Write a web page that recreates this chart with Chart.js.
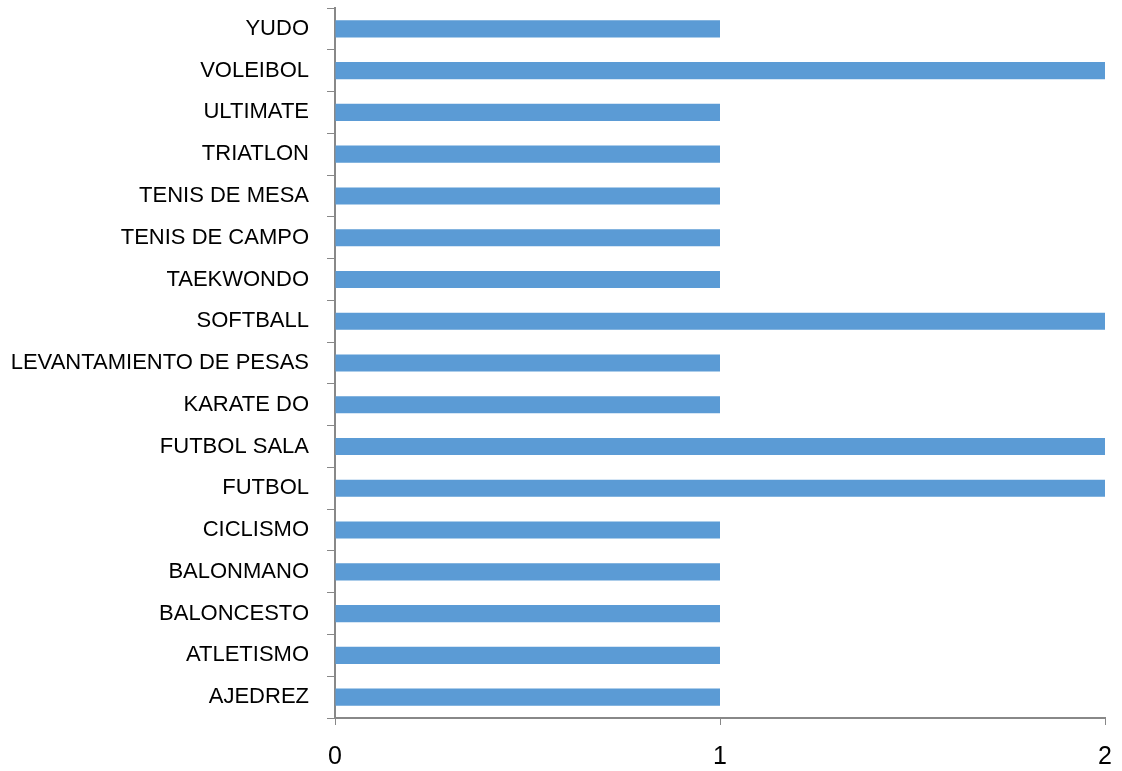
<!DOCTYPE html>
<html lang="es">
<head>
  <meta charset="UTF-8">
  <title>Deportes</title>
  <script src="https://cdn.jsdelivr.net/npm/chart.js"></script>
  <style>
    html, body { margin: 0; padding: 0; background: #fff; }
    canvas { display: block; }
  </style>
</head>
<body>
  <canvas id="myChart" width="1122" height="771"></canvas>

  <script>
    // categories (bottom to top) and counts
    const deportes = ['AJEDREZ', 'ATLETISMO', 'BALONCESTO', 'BALONMANO', 'CICLISMO', 'FUTBOL',
      'FUTBOL SALA', 'KARATE DO', 'LEVANTAMIENTO DE PESAS', 'SOFTBALL', 'TAEKWONDO',
      'TENIS DE CAMPO', 'TENIS DE MESA', 'TRIATLON', 'ULTIMATE', 'VOLEIBOL', 'YUDO'];
    const cantidad = [1, 1, 1, 1, 1, 2, 2, 1, 1, 2, 1, 1, 1, 1, 1, 2, 1];
    const xTicks = [0, 1, 2];

    const axisGray = '#888888';
    let ctx = document.getElementById('myChart').getContext('2d');

    new Chart(ctx, {
      type: 'bar',
      data: {
        labels: deportes,
        datasets: [{
          data: cantidad,
          backgroundColor: '#5b9bd5',
          borderWidth: 0,
          categoryPercentage: 1,
          barPercentage: 0.41
        }]
      },
      options: {
        indexAxis: 'y',
        responsive: false,
        animation: false,
        layout: { padding: { top: 8, right: 17, left: 0, bottom: 0 } },
        plugins: { legend: { display: false }, tooltip: { enabled: false } },
        scales: {
          x: {
            min: 0,
            max: 2,
            afterBuildTicks: s => { s.ticks = xTicks.map(v => ({ value: v })); },
            afterFit: s => { s.height = 53; s.paddingLeft = 0; s.paddingRight = 0; },
            grid: { drawOnChartArea: false, drawTicks: true, tickLength: 7, color: axisGray },
            border: { color: axisGray, width: 2 },
            ticks: { color: '#000', padding: 17, font: { family: 'Liberation Sans', size: 25 } }
          },
          y: {
            reverse: true,
            afterFit: s => { s.width = 335; s.paddingTop = 0; s.paddingBottom = 0; },
            grid: { offset: true, drawOnChartArea: false, drawTicks: true, tickLength: 8, color: axisGray },
            border: { color: axisGray, width: 2 },
            ticks: { color: '#000', padding: 18, autoSkip: false, font: { family: 'Liberation Sans', size: 22 } }
          }
        }
      }
    });
  </script>
</body>
</html>
